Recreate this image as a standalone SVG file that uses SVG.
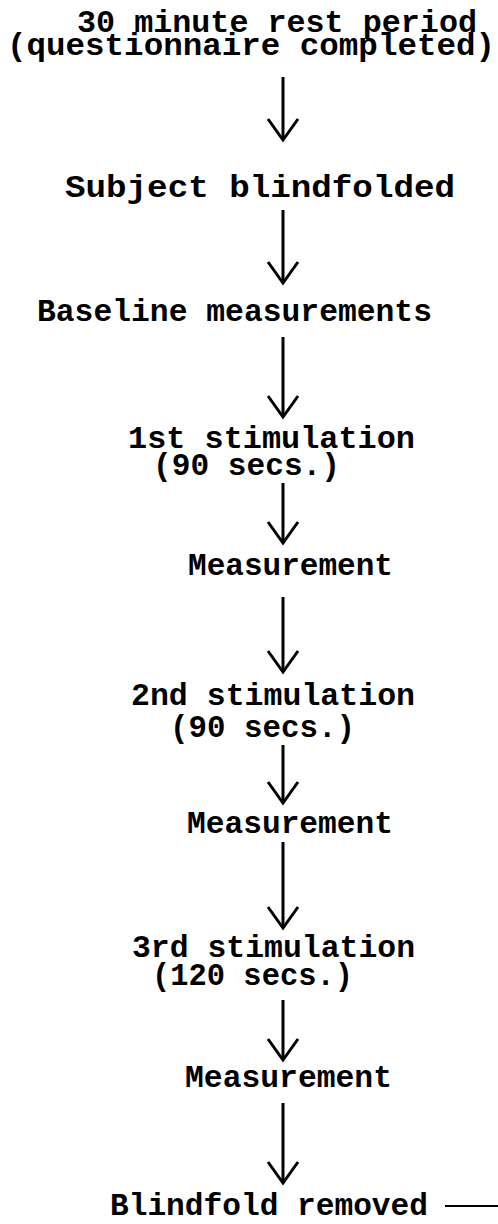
<svg xmlns="http://www.w3.org/2000/svg" width="498" height="1224" viewBox="0 0 498 1224">
<style>
text{font-family:"Liberation Mono","Courier New",monospace;font-weight:bold;font-size:31px;fill:#000}
.c line{stroke:#000;stroke-width:3;marker-end:url(#v)}
</style>
<defs>
<marker id="v" markerUnits="userSpaceOnUse" orient="auto" markerWidth="30" markerHeight="40" refX="0" refY="0" overflow="visible">
<path d="M-21,-15 L0,0 L-21,15" fill="none" stroke="#000" stroke-width="3"/>
</marker>
</defs>
<rect width="498" height="1224" fill="#fff"/>
<g id="n1"><text><tspan x="77" y="32" textLength="400" lengthAdjust="spacingAndGlyphs">30 minute rest period</tspan><tspan x="7" y="55" textLength="488" lengthAdjust="spacingAndGlyphs">(questionnaire completed)</tspan></text></g>
<g id="n2"><text x="65" y="197" textLength="390" lengthAdjust="spacingAndGlyphs">Subject blindfolded</text></g>
<g id="n3"><text x="37" y="321" textLength="395" lengthAdjust="spacingAndGlyphs">Baseline measurements</text></g>
<g id="n4"><text><tspan x="128" y="448" textLength="287" lengthAdjust="spacingAndGlyphs">1st stimulation</tspan><tspan x="153" y="475" textLength="187" lengthAdjust="spacingAndGlyphs">(90 secs.)</tspan></text></g>
<g id="n5"><text x="188" y="575" textLength="205" lengthAdjust="spacingAndGlyphs">Measurement</text></g>
<g id="n6"><text><tspan x="131" y="705" textLength="284" lengthAdjust="spacingAndGlyphs">2nd stimulation</tspan><tspan x="170" y="737" textLength="185" lengthAdjust="spacingAndGlyphs">(90 secs.)</tspan></text></g>
<g id="n7"><text x="187" y="833" textLength="206" lengthAdjust="spacingAndGlyphs">Measurement</text></g>
<g id="n8"><text><tspan x="132" y="957" textLength="283" lengthAdjust="spacingAndGlyphs">3rd stimulation</tspan><tspan x="152" y="985" textLength="201" lengthAdjust="spacingAndGlyphs">(120 secs.)</tspan></text></g>
<g id="n9"><text x="185" y="1087" textLength="207" lengthAdjust="spacingAndGlyphs">Measurement</text></g>
<g id="n10"><text x="110" y="1215" textLength="318" lengthAdjust="spacingAndGlyphs">Blindfold removed</text></g>
<g id="connectors" class="c">
<line x1="283" y1="77" x2="283" y2="140"/>
<line x1="283" y1="210" x2="283" y2="283"/>
<line x1="283" y1="337" x2="283" y2="417"/>
<line x1="283" y1="483" x2="283" y2="543"/>
<line x1="283" y1="597" x2="283" y2="672"/>
<line x1="283" y1="745" x2="283" y2="803"/>
<line x1="283" y1="842" x2="283" y2="928"/>
<line x1="283" y1="1000" x2="283" y2="1060"/>
<line x1="283" y1="1103" x2="283" y2="1183"/>
<path d="M445,1206 L498,1206" stroke="#000" stroke-width="2" fill="none"/>
</g>
</svg>
